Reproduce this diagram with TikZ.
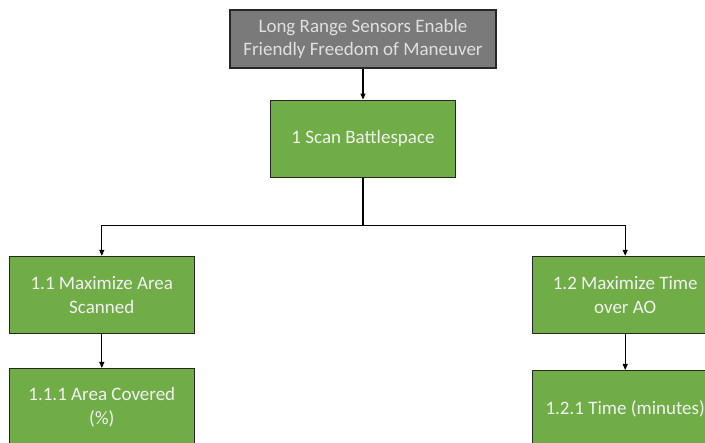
\documentclass[tikz,border=0pt]{standalone}
\usepackage{fontspec}
\setmainfont{Carlito}
\usetikzlibrary{positioning}
\usetikzlibrary{arrows.meta}
\definecolor{boxgreen}{HTML}{70AD47}
\definecolor{boxgray}{HTML}{7A7A7A}
\tikzset{main node/.style={rectangle,draw=black!85,line width=1.2pt,fill=boxgreen,text=white!95!black,
    minimum width=185pt,minimum height=77pt,inner sep=0pt,align=center,
    font=\fontsize{19}{23.5}\selectfont},
  goal node/.style={main node,fill=boxgray,text=white!88!black,minimum width=266pt,minimum height=58pt},}

\begin{document}
\begin{tikzpicture}[>={Triangle[length=6pt,width=5pt]}]
   \useasboundingbox (0,0) rectangle (705pt,-443pt);
   \clip (0,0) rectangle (705pt,-443pt);
   \node[goal node] (goal) at (363pt,-39pt) {Long Range Sensors Enable\\Friendly Freedom of Maneuver};
   \node[main node] (scan) [below = 31pt of goal] {1 Scan Battlespace};
   \node[main node] (area) [below left = 78pt and 75pt of scan] {1.1 Maximize Area\\Scanned};
   \node[main node] (time) [below right = 78pt and 76pt of scan] {1.2 Maximize Time\\over AO};
   \node[main node] (covered) [below = 34pt of area] {1.1.1 Area Covered\\(\%)};
   \node[main node] (minutes) [below = 36pt of time] {1.2.1 Time (minutes)};

   \path[->,line width=1.1pt]
   (goal) edge node {} (scan)
   (area) edge node {} (covered)
   (time) edge node {} (minutes);
   \draw[->,line width=1.1pt] (scan.south) -- ++(0,-48pt) coordinate (bus) -| (area.north);
   \draw[->,line width=1.1pt] (bus) -| (time.north);
  \end{tikzpicture}
\end{document}
